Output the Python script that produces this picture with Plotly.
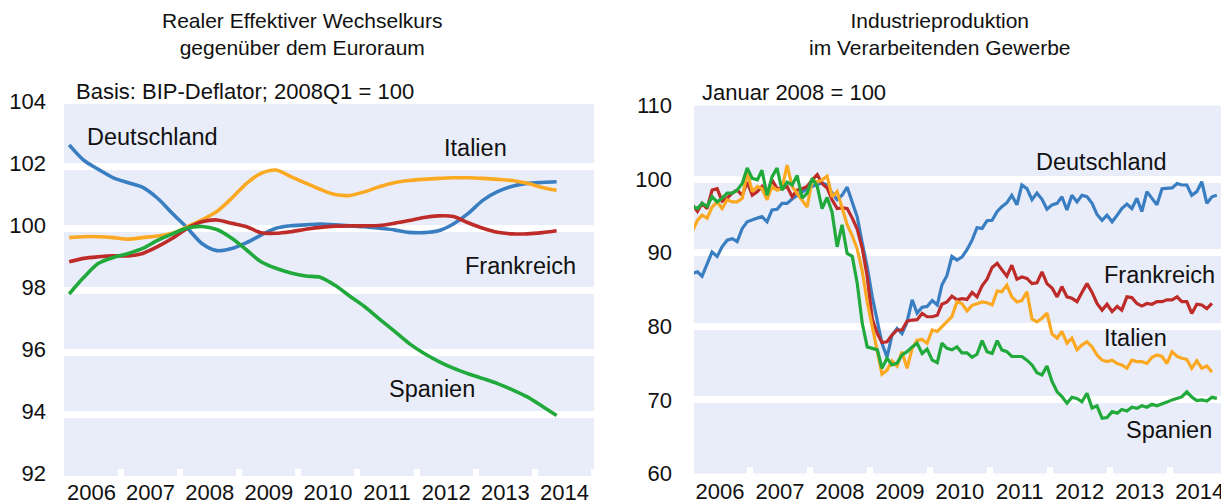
import pandas as pd
import plotly.graph_objects as go

W, H = 1229, 503
OX, OY = 8, 8          # the page body offsets the figure; compensate
FONT = "Liberation Sans, Arial, sans-serif"
BG = "#E9EDFA"
C_DE, C_FR, C_IT, C_ES = "#3A7EC2", "#BE2C2A", "#FBA822", "#21A93C"

# ---------------- Left panel: real effective exchange rate (quarterly, 2008Q1 = 100)
quarters = pd.period_range("2006Q1", "2014Q2", freq="Q")
q_dates = [p.start_time + pd.DateOffset(months=1, days=14) for p in quarters]

reer_de = [102.68, 102.19, 101.89, 101.62, 101.46, 101.31, 100.96, 100.47, 100.0, 99.5,
           99.27, 99.34, 99.53, 99.77, 99.99, 100.07, 100.1, 100.13, 100.1, 100.07,
           100.04, 99.99, 99.94, 99.86, 99.85, 99.91, 100.13, 100.47, 100.9, 101.17,
           101.35, 101.44, 101.47, 101.49]
reer_it = [99.69, 99.72, 99.72, 99.69, 99.64, 99.69, 99.74, 99.83, 100.04, 100.26,
           100.53, 100.96, 101.44, 101.76, 101.87, 101.66, 101.45, 101.25, 101.08, 101.05,
           101.17, 101.33, 101.46, 101.53, 101.57, 101.6, 101.62, 101.62, 101.6, 101.57,
           101.53, 101.44, 101.31, 101.22]
reer_fr = [98.91, 99.02, 99.07, 99.10, 99.1, 99.18, 99.4, 99.67, 99.99, 100.2,
           100.26, 100.15, 100.04, 99.85, 99.83, 99.88, 99.96, 100.02, 100.06, 100.07,
           100.07, 100.08, 100.15, 100.24, 100.34, 100.39, 100.37, 100.17, 99.99, 99.86,
           99.81, 99.81, 99.85, 99.91]
reer_es = [97.87, 98.4, 98.86, 99.05, 99.18, 99.34, 99.6, 99.81, 100.0, 100.05,
           99.95, 99.67, 99.29, 98.91, 98.7, 98.55, 98.45, 98.41, 98.15, 97.8,
           97.46, 97.07, 96.68, 96.28, 95.96, 95.7, 95.48, 95.3, 95.14, 94.98,
           94.78, 94.55, 94.25, 93.95]

# ---------------- Right panel: industrial production, manufacturing (monthly, Jan 2008 = 100)
months = pd.date_range("2006-01-01", "2014-10-01", freq="MS") + pd.Timedelta(days=14)

ip_de = [87.2, 87.4, 86.8, 88.6, 90.1, 89.5, 90.8, 91.7, 91.9, 91.5,
         93.3, 94.2, 94.4, 94.7, 94.9, 94.2, 95.8, 95.9, 96.7, 96.7,
         97.3, 97.8, 98.2, 98.7, 99.0, 99.3, 99.5,
         99.2, 98.1, 97.2, 97.8, 98.9, 96.7, 94.9, 91.3, 88.1, 84.0,
         80.4, 77.7, 75.8, 78.8, 79.7, 79.0, 80.6, 83.6, 81.8, 82.6,
         82.7, 83.5, 82.9, 85.6, 86.9, 89.5, 89.0, 89.4,
         90.4, 91.7, 93.4, 93.3, 94.35, 94.4, 95.6, 96.25, 96.8, 97.8,
         96.5, 99.2, 98.7, 97.2, 98.1, 97.25, 95.9, 96.5, 96.7, 97.6,
         95.8, 97.8, 96.9, 97.8, 97.6,
         96.7, 95.2, 94.4, 95.1, 94.2, 95.1, 96.0, 96.6, 96.0, 97.4,
         95.6, 98.3, 97.4, 96.5, 98.7, 98.7, 98.8, 99.4, 99.2, 99.2,
         97.8, 98.3, 99.65, 96.7, 97.6, 97.8]
ip_fr = [96.5, 95.6, 96.7, 96.0, 98.5, 98.7, 97.0, 97.4, 98.1, 98.5,
         97.8, 99.6, 97.8, 98.3, 99.0, 97.8, 99.9, 98.7, 98.7, 99.0,
         97.6, 98.5, 98.7, 99.0, 99.9, 100.6, 99.4,
         98.8, 97.2, 96.0, 96.1, 96.0, 94.7, 93.2, 90.6, 86.8, 81.0,
         79.0, 77.8, 77.9, 78.8, 79.5, 79.5, 80.7, 80.85, 80.9, 81.75,
         81.3, 81.3, 81.5, 83.0, 83.3, 84.1, 83.6, 83.75,
         83.65, 84.6, 84.0, 85.5, 86.4, 88.0, 88.55, 87.7, 86.8, 88.3,
         86.4, 86.7, 86.5, 85.8, 85.9, 87.4, 85.8, 85.2, 84.0, 85.4,
         84.0, 83.8, 83.35, 84.6, 85.8,
         84.6, 83.1, 82.2, 83.0, 82.0, 82.7, 82.2, 84.0, 83.9, 83.1,
         82.75, 83.1, 83.0, 83.35, 83.35, 83.6, 83.6, 84.0, 83.35, 83.35,
         81.75, 83.0, 82.9, 82.4, 83.1, None]
ip_it = [92.9, 94.4, 95.1, 94.7, 96.2, 96.9, 96.0, 97.2, 96.9, 96.9,
         97.4, 101.0, 98.3, 99.0, 98.7, 97.2, 99.0, 98.5, 98.7, 101.9,
         99.0, 98.1, 97.2, 96.2, 99.9, 99.6, 99.9,
         100.4, 97.6, 98.3, 96.1, 93.8, 92.3, 90.5, 87.5, 83.3, 79.95,
         76.55, 73.5, 74.05, 75.3, 74.6, 76.55, 74.3, 77.0, 78.1, 78.2,
         77.7, 79.5, 79.3, 79.95, 80.6, 81.3, 83.35, 83.1,
         82.1, 82.85, 83.05, 83.3, 83.2, 82.9, 84.8, 84.7, 85.6, 84.0,
         83.3, 83.5, 84.7, 81.0, 80.6, 81.1, 81.8, 78.95, 78.4, 79.3,
         77.7, 78.4, 76.8, 77.45, 77.9,
         77.2, 76.1, 75.4, 75.2, 75.4, 74.95, 74.75, 74.3, 75.4, 75.2,
         75.2, 74.95, 75.8, 76.1, 75.9, 74.95, 76.55, 75.9, 75.65, 75.5,
         74.3, 75.3, 74.3, 74.6, 73.8, None]
ip_es = [96.3, 96.0, 96.7, 96.3, 97.6, 96.9, 97.4, 98.1, 98.1, 98.5,
         99.4, 101.5, 100.1, 99.9, 101.2, 97.8, 100.3, 101.5, 98.5, 99.6,
         99.2, 100.5, 97.4, 98.1, 100.1, 99.0, 96.0,
         97.5, 95.5, 90.8, 93.8, 89.9, 89.5, 85.9, 80.4, 77.2, 77.0,
         76.8, 74.3, 75.65, 74.75, 75.0, 76.1, 76.55, 77.2, 77.7, 76.3,
         76.9, 75.4, 75.05, 77.7, 77.0, 76.8, 77.2, 76.4,
         76.4, 75.8, 76.2, 78.05, 76.55, 76.3, 78.05, 76.8, 76.55, 75.9,
         75.9, 75.9, 75.4, 74.75, 73.7, 73.4, 74.6, 72.5, 71.1, 70.45,
         69.55, 70.35, 70.2, 69.75, 70.9,
         68.9, 69.2, 67.5, 67.6, 68.4, 68.2, 68.7, 68.5, 69.0, 68.85,
         69.2, 69.0, 69.4, 69.2, 69.4, 69.7, 70.0, 70.2, 70.4, 71.1,
         70.4, 69.9, 70.0, 69.85, 70.35, 70.2]

LW = 3.6
fig = go.Figure()
for y, c in [(reer_de, C_DE), (reer_it, C_IT), (reer_fr, C_FR), (reer_es, C_ES)]:
    fig.add_trace(go.Scatter(x=q_dates, y=y, mode="lines", xaxis="x", yaxis="y",
                             line=dict(color=c, width=LW, shape="spline", smoothing=0.8),
                             showlegend=False, hoverinfo="skip"))
for y, c in [(ip_de, C_DE), (ip_fr, C_FR), (ip_it, C_IT), (ip_es, C_ES)]:
    fig.add_trace(go.Scatter(x=months, y=y, mode="lines", xaxis="x2", yaxis="y2",
                             line=dict(color=c, width=LW - 0.4), showlegend=False,
                             hoverinfo="skip", connectgaps=False))


def px(v):
    return (v - OX) / W


def py(v):
    return 1 - (v - OY) / H


tick_font = dict(family=FONT, size=22, color="#111111")
xcommon = dict(type="date", dtick="M12", tick0="2006-01-01", ticklabelmode="period",
               tickformat="%Y", ticks="inside", tickcolor="white", ticklen=7, tickwidth=6,
               showgrid=False, zeroline=False, showline=False, tickfont=tick_font,
               automargin=False)
ycommon = dict(showgrid=True, gridcolor="white", gridwidth=6.5, zeroline=False,
               showline=False, ticks="", tickfont=tick_font, automargin=False)

fig.update_layout(
    width=W, height=H, margin=dict(l=0, r=0, t=0, b=0, autoexpand=False),
    paper_bgcolor="white", plot_bgcolor=BG,
    font=dict(family=FONT, color="#111111"),
    xaxis=dict(domain=[px(64), px(594)], range=["2006-01-14", "2015-01-01"],
               anchor="y", ticklabelstandoff=1, **xcommon),
    yaxis=dict(domain=[py(476), py(104)], range=[92, 104], dtick=2, anchor="x",
               ticklabelstandoff=17, ticklabelshift=-3, **ycommon),
    xaxis2=dict(domain=[px(694), px(1229)], range=["2006-01-25", "2014-12-28"],
                anchor="y2", ticklabelstandoff=2, **xcommon),
    yaxis2=dict(domain=[py(473.5), py(105.5)], range=[60, 110], dtick=10, anchor="x2",
                ticklabelstandoff=21, ticklabelshift=0, **ycommon),
)

lab = dict(family=FONT, size=23.5, color="#111111")
annots = [
    dict(x="2007-07-16", y=102.94, xref="x", yref="y", text="Deutschland"),
    dict(x="2013-01-01", y=102.58, xref="x", yref="y", text="Italien"),
    dict(x="2013-10-05", y=98.77, xref="x", yref="y", text="Frankreich"),
    dict(x="2012-04-05", y=94.81, xref="x", yref="y", text="Spanien"),
    dict(x="2012-11-14", y=102.36, xref="x2", yref="y2", text="Deutschland"),
    dict(x="2013-11-01", y=86.97, xref="x2", yref="y2", text="Frankreich"),
    dict(x="2013-06-08", y=78.37, xref="x2", yref="y2", text="Italien"),
    dict(x="2013-12-29", y=65.91, xref="x2", yref="y2", text="Spanien"),
]
for a in annots:
    fig.add_annotation(showarrow=False, font=lab, xanchor="center", yanchor="middle", **a)

title_font = dict(family=FONT, size=21, color="#111111")
sub_font = dict(family=FONT, size=22, color="#111111")
fig.add_annotation(x=px(302), y=py(33.5), xref="paper", yref="paper", showarrow=False,
                   text="Realer Effektiver Wechselkurs<br>gegenüber dem Euroraum",
                   font=title_font, xanchor="center", yanchor="middle", align="center")
fig.add_annotation(x=px(940), y=py(33.5), xref="paper", yref="paper", showarrow=False,
                   text="Industrieproduktion<br>im Verarbeitenden Gewerbe",
                   font=title_font, xanchor="center", yanchor="middle", align="center")
fig.add_annotation(x=px(74), y=py(91.5), xref="paper", yref="paper", showarrow=False,
                   text="Basis: BIP-Deflator; 2008Q1 = 100", font=sub_font,
                   xanchor="left", yanchor="middle")
fig.add_annotation(x=px(700), y=py(92.5), xref="paper", yref="paper", showarrow=False,
                   text="Januar 2008 = 100", font=sub_font,
                   xanchor="left", yanchor="middle")

fig.write_html("out.html")
